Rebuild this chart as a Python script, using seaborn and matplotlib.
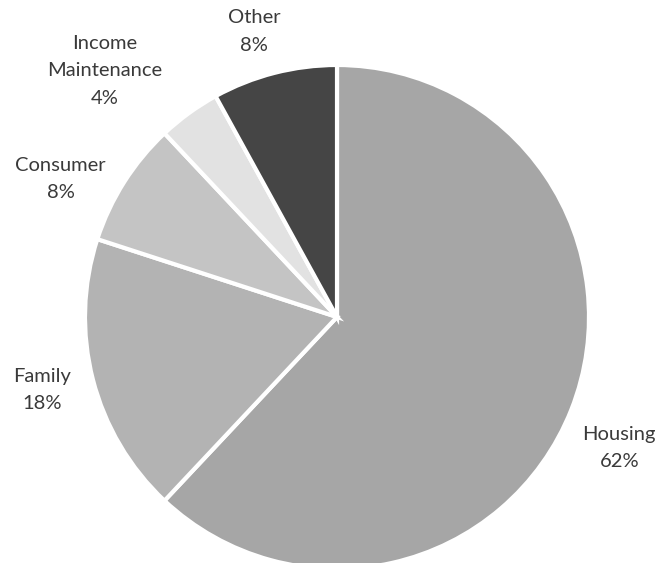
import matplotlib
matplotlib.use("Agg")
import matplotlib.pyplot as plt
import seaborn as sns

# --- data ---
categories = ["Housing", "Family", "Consumer", "Income\nMaintenance", "Other"]
shares = [62, 18, 8, 4, 8]
slice_colors = ["#a6a6a6", "#b3b3b3", "#c4c4c4", "#e2e2e2", "#454545"]

# label centres, in pie-radius units
label_pos = [(1.12, -0.52), (-1.172, -0.29), (-1.096, 0.548),
             (-0.921, 0.977), (-0.33, 1.132)]

sns.set_theme(style="white")
plt.rcParams["font.family"] = ["Lato", "DejaVu Sans"]

fig = plt.figure(figsize=(6.61, 5.63), dpi=100)
ax = fig.add_axes([0, 0, 1, 1])

wedges, _ = ax.pie(
    shares,
    colors=slice_colors,
    startangle=90,
    counterclock=False,
    radius=1.0,
    wedgeprops=dict(edgecolor="white", linewidth=3),
)

for name, val, (x, y) in zip(categories, shares, label_pos):
    ax.text(x, y, f"{name}\n{val}%", ha="center", va="center",
            fontsize=14.5, color="#3a3a3a", linespacing=1.75)

# pie centre sits at pixel (337, 317), radius 252 px
r_px = 252
ax.set_aspect("auto")
ax.set_xlim(-337 / r_px, (661 - 337) / r_px)
ax.set_ylim(-(563 - 317) / r_px, 317 / r_px)
ax.axis("off")

fig.savefig("out.png", dpi=100, facecolor="white")
